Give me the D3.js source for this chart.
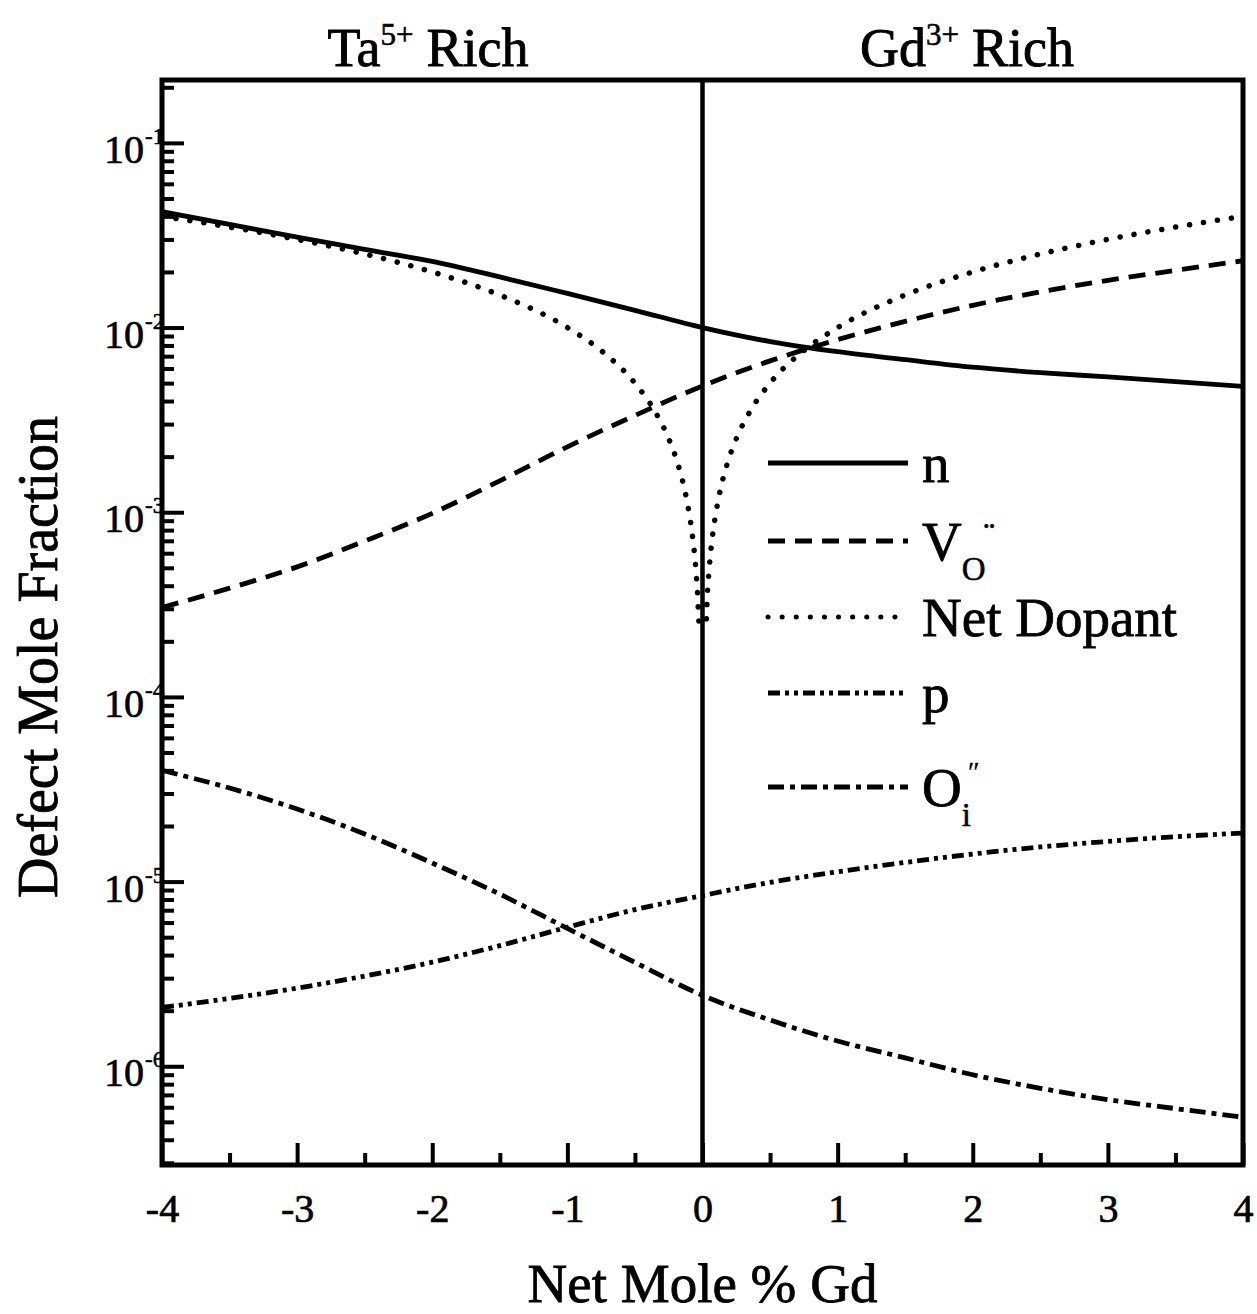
<!DOCTYPE html>
<html>
<head>
<meta charset="utf-8">
<script src="https://cdn.jsdelivr.net/npm/d3@7"></script>
<style>
  body { margin: 0; background: #fff; }
  text { font-family: "Liberation Serif", "Times New Roman", serif; fill: #000; }
</style>
</head>
<body>
<svg id="chart" width="1257" height="1314"></svg>
<script>
// Net mole % Gd grid for the defect curves
const xValues = [-4, -3.5, -3, -2.5, -2, -1.5, -1, -0.5, 0, 0.5, 1, 1.5, 2, 2.5, 3, 3.5, 4];

// Electrons n
const nValues = [0.0424, 0.0362, 0.0309, 0.0265, 0.0228, 0.0188, 0.0153, 0.0124, 0.0100,
                 0.0084, 0.0074, 0.0067, 0.0061, 0.0057, 0.0054, 0.0051, 0.0048];

// Oxygen vacancies V_O••
const vacancyValues = [3.05e-4, 3.88e-4, 5.06e-4, 6.98e-4, 9.86e-4, 1.48e-3, 2.26e-3, 3.34e-3, 4.83e-3,
                       6.6e-3, 8.6e-3, 1.08e-2, 1.32e-2, 1.56e-2, 1.8e-2, 2.04e-2, 2.3e-2];

// Holes p
const holeValues = [2.08e-6, 2.33e-6, 2.65e-6, 3.08e-6, 3.66e-6, 4.5e-6, 5.66e-6, 7.05e-6, 8.4e-6,
                    9.9e-6, 1.13e-5, 1.27e-5, 1.41e-5, 1.54e-5, 1.65e-5, 1.75e-5, 1.83e-5];

// Oxygen interstitials O_i''
const interstitialValues = [4.0e-5, 3.21e-5, 2.47e-5, 1.81e-5, 1.26e-5, 8.55e-6, 5.58e-6, 3.65e-6, 2.42e-6,
                            1.78e-6, 1.37e-6, 1.11e-6, 9.0e-7, 7.6e-7, 6.6e-7, 5.9e-7, 5.3e-7];

// Net dopant: finer grid near the compensation point
const dopantX = [-4, -3.5, -3, -2.5, -2, -1.5, -1, -0.75, -0.5, -0.35, -0.25, -0.18, -0.12, -0.08, -0.05, -0.035, -0.025,
                 0.025, 0.035, 0.05, 0.08, 0.12, 0.18, 0.25, 0.35, 0.5, 0.75, 1, 1.5, 2, 2.5, 3, 3.5, 4];
const dopantValues = [0.040, 0.035, 0.030, 0.025, 0.020, 0.015, 0.010, 0.0075, 0.005, 0.0035, 0.0025, 0.0018, 0.0012, 0.0008, 0.0005, 0.00035, 0.00025,
                      0.00025, 0.00035, 0.0005, 0.0008, 0.0012, 0.0018, 0.0025, 0.0035, 0.005, 0.0075, 0.010, 0.015, 0.020, 0.025, 0.030, 0.035, 0.040];

// Axis ticks and labels
const xTickValues = [-4, -3, -2, -1, 0, 1, 2, 3, 4];
const xTickLabels = ["-4", "-3", "-2", "-1", "0", "1", "2", "3", "4"];
const xMinorTickValues = [-3.5, -2.5, -1.5, -0.5, 0.5, 1.5, 2.5, 3.5];
const yDecades = [-1, -2, -3, -4, -5, -6];
const yExponentLabels = ["-1", "-2", "-3", "-4", "-5", "-6"];

// Legend entries: main text, subscript, superscript
const legendMain = ["n", "V", "Net Dopant", "p", "O"];
const legendSub = ["", "O", "", "", "i"];
const legendSup = ["", "••", "", "", "\u2033"];

const serif = "'Liberation Serif', 'Times New Roman', serif";
const svg = d3.select("#chart");
svg.append("rect").attr("width", 1257).attr("height", 1314).attr("fill", "#fff");

const plotLeft = 162, plotRight = 1243, plotTop = 80, plotBottom = 1165;
const x = d3.scaleLinear().domain([-4, 4]).range([plotLeft, plotRight]);
const y = d3.scaleLog().domain([2.92e-7, 0.219]).range([plotBottom, plotTop]);

// Minor log ticks (2..9 per decade) inside the domain
const yMinor = [];
for (let d = -7; d <= 0; d++) {
  for (let k = 2; k <= 9; k++) {
    const v = k * Math.pow(10, d);
    if (v > y.domain()[0] && v < y.domain()[1]) yMinor.push(v);
  }
}

function styleAxis(g) {
  g.attr("font-family", serif);
  g.select(".domain").remove();
  g.selectAll(".tick line").attr("stroke", "#000").attr("stroke-width", 4);
}

// Y axis ticks
svg.append("g").attr("transform", `translate(${plotLeft},0)`)
  .call(d3.axisLeft(y).tickValues(yMinor).tickSize(-12).tickFormat(""))
  .call(styleAxis);
svg.append("g").attr("transform", `translate(${plotLeft},0)`)
  .call(d3.axisLeft(y).tickValues(yDecades.map(d => Math.pow(10, d))).tickSize(-22).tickFormat(""))
  .call(styleAxis);

// X axis ticks and labels
svg.append("g").attr("transform", `translate(0,${plotBottom})`)
  .call(d3.axisBottom(x).tickValues(xMinorTickValues).tickSize(-12).tickFormat(""))
  .call(styleAxis);
const xAxisG = svg.append("g").attr("transform", `translate(0,${plotBottom})`)
  .call(d3.axisBottom(x).tickValues(xTickValues).tickSize(-22).tickFormat((d, i) => xTickLabels[i]))
  .call(styleAxis);
xAxisG.selectAll(".tick text")
  .attr("y", 57).attr("dy", null)
  .style("font-family", serif)
  .attr("font-size", 40).attr("fill", "#000")
  .attr("stroke", "#000").attr("stroke-width", 0.7);

// Plot frame and zero line
svg.append("rect").attr("x", plotLeft).attr("y", plotTop)
  .attr("width", plotRight - plotLeft).attr("height", plotBottom - plotTop)
  .attr("fill", "none").attr("stroke", "#000").attr("stroke-width", 5);
svg.append("line").attr("x1", x(0)).attr("x2", x(0)).attr("y1", plotTop).attr("y2", plotBottom)
  .attr("stroke", "#000").attr("stroke-width", 4.5);

// Y decade labels: 10 with exponent
yDecades.forEach((d, i) => {
  const ty = y(Math.pow(10, d));
  svg.append("text").attr("x", 144).attr("y", ty + 20).attr("text-anchor", "end")
    .attr("font-size", 40).attr("stroke", "#000").attr("stroke-width", 0.7)
    .text("10");
  svg.append("text").attr("x", 145).attr("y", ty + 1).attr("font-size", 23)
    .attr("stroke", "#000").attr("stroke-width", 0.5)
    .text(yExponentLabels[i]);
});

// Curves
const lineGen = d3.line().x(d => x(d[0])).y(d => y(d[1])).curve(d3.curveMonotoneX);
const series = [
  { xs: xValues, ys: nValues, dash: null, cap: "butt" },
  { xs: xValues, ys: vacancyValues, dash: "17 10", cap: "butt" },
  { xs: dopantX, ys: dopantValues, dash: "0.1 14", cap: "round" },
  { xs: xValues, ys: holeValues, dash: "12 5 4 5 4 5", cap: "butt" },
  { xs: xValues, ys: interstitialValues, dash: "16 6 5 6", cap: "butt" }
];
svg.append("clipPath").attr("id", "plotClip")
  .append("rect").attr("x", plotLeft).attr("y", plotTop)
  .attr("width", plotRight - plotLeft).attr("height", plotBottom - plotTop);
series.forEach(s => {
  svg.append("path")
    .datum(s.xs.map((xv, i) => [xv, s.ys[i]]))
    .attr("d", lineGen)
    .attr("fill", "none").attr("stroke", "#000")
    .attr("stroke-width", s.cap === "round" ? 5.5 : 4.8)
    .attr("stroke-linecap", s.cap)
    .attr("stroke-dasharray", s.dash)
    .attr("clip-path", "url(#plotClip)");
});

// Legend
const legendY = [463, 541, 617, 693, 787];
series.forEach((s, i) => {
  const ly = legendY[i];
  svg.append("line").attr("x1", 768).attr("x2", 908).attr("y1", ly).attr("y2", ly)
    .attr("stroke", "#000").attr("stroke-width", s.cap === "round" ? 5 : 4.8)
    .attr("stroke-linecap", s.cap).attr("stroke-dasharray", s.dash);
  const t = svg.append("text").attr("x", 922).attr("y", ly + 19).attr("font-size", 55)
    .attr("stroke", "#000").attr("stroke-width", 0.8);
  t.append("tspan").text(legendMain[i]);
  if (legendSub[i]) {
    t.append("tspan").attr("dy", 20).attr("font-size", 33).attr("stroke-width", 0.5).text(legendSub[i]);
  }
  if (legendSup[i]) {
    const dots = legendSup[i] === "••";
    t.append("tspan").attr("dy", dots ? -48 : -45)
      .attr("dx", dots ? -2 : -3).attr("stroke-width", 0.3)
      .attr("font-size", dots ? 16 : 28).text(legendSup[i]);
  }
});

// Region titles (relative shifts keep one text chunk so centring holds)
function regionTitle(cx, base, sup) {
  const t = svg.append("text").attr("x", cx).attr("y", 66).attr("text-anchor", "middle")
    .attr("font-size", 54).attr("stroke", "#000").attr("stroke-width", 0.9);
  t.append("tspan").text(base);
  t.append("tspan").attr("dy", -21).attr("font-size", 31).attr("stroke-width", 0.6).text(sup);
  t.append("tspan").attr("dy", 21).attr("dx", 13).text("Rich");
}
regionTitle(428, "Ta", "5+");
regionTitle(967, "Gd", "3+");

// Axis titles
svg.append("text").attr("x", x(0)).attr("y", 1302).attr("text-anchor", "middle")
  .attr("font-size", 55).attr("stroke", "#000").attr("stroke-width", 0.8)
  .text("Net Mole % Gd");
svg.append("text").attr("transform", "translate(57,657) rotate(-90)").attr("text-anchor", "middle")
  .attr("font-size", 56).attr("stroke", "#000").attr("stroke-width", 0.8)
  .text("Defect Mole Fraction");
</script>
</body>
</html>
